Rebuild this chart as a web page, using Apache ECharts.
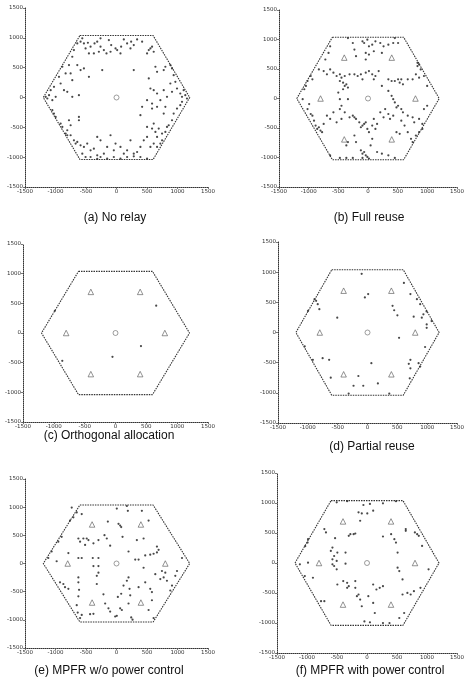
<!DOCTYPE html>
<html><head><meta charset="utf-8">
<script src="https://cdn.jsdelivr.net/npm/echarts@6/dist/echarts.min.js"></script>
<style>html,body{margin:0;padding:0;background:#fff}#c{width:467px;height:686px}</style>
</head><body><div id="c"></div>
<script>
// ---------- data ----------
const ticks = [-1500, -1000, -500, 0, 500, 1000, 1500];
const captions = ['(a) No relay', '(b) Full reuse', '(c) Orthogonal allocation', '(d) Partial reuse', '(e) MPFR w/o power control', '(f) MPFR with power control'];
const hexagon = [[-600,1039],[600,1039],[1200,0],[600,-1039],[-600,-1039],[-1200,0],[-600,1039]];
const baseStation = [[0,0]];
const relays = [[800,0],[400,693],[-400,693],[-800,0],[-400,-693],[400,-693]];
const hasRelays = [false, true, true, true, true, true];

const usersA = [
[-589,935],[-534,907],[-469,918],[-425,851],[-360,907],[-316,935],[-262,851],[-207,795],[-164,739],[-125,963],
[-87,879],[-16,823],[11,795],[76,851],[120,974],[174,907],[240,935],[283,879],[338,974],[420,935],
[501,739],[529,795],[556,823],[583,851],[610,767],[-452,739],[-371,739],[-289,767],[-643,907],[-698,795],
[-561,991],[-507,823],[-98,767],[65,739],[-262,991],[229,823],
[-725,683],[-779,543],[-888,515],[-834,403],[-943,347],[-752,403],[-725,291],[-643,543],[-589,459],[-534,487],
[-452,347],[-1025,179],[-1079,123],[-1106,39],[-1161,11],[-1134,-17],[-1052,-45],[-997,11],[-861,123],[-725,11],
[-616,39],[-807,95],[-916,235],[-234,459],[283,459],
[638,515],[665,431],[774,459],[801,515],[883,543],[910,487],[937,375],[965,263],[529,319],[556,151],
[610,123],[665,67],[774,123],[828,11],[910,95],[992,151],[1046,67],[1074,11],[1101,123],[1128,39],
[1155,-17],[883,235],[501,-45],
[-1052,-213],[-1025,-269],[-997,-325],[-916,-437],[-888,-493],[-834,-605],[-807,-549],[-779,-381],[-752,-465],[-616,-325],
[-616,-381],[-807,-633],[-752,-633],[-698,-717],[-670,-773],[-643,-745],[-589,-801],[-534,-829],[-480,-773],[-425,-885],
[-371,-857],[-316,-661],[-262,-717],[-207,-941],[-153,-829],[-98,-633],[-44,-885],[-16,-773],[65,-829],[120,-941],
[174,-885],[229,-717],[283,-941],[338,-913],[392,-829],[447,-717],[501,-661],[556,-829],[610,-773],[-561,-941],
[-507,-997],[-425,-997],[-316,-1030],[-262,-997],[-153,-1025],[-44,-997],[65,-1025],[174,-997],[283,-986],[392,-997],
[501,-1025],[-316,-969],
[420,-157],[583,-101],[665,-157],[719,-45],[774,-269],[801,-157],[828,-493],[801,-577],[856,-465],[910,-381],
[937,-269],[992,-185],[1046,-129],[1074,-73],[610,-437],[692,-521],[747,-605],[638,-577],[665,-661],[747,-717],
[665,-829],[719,-773],[583,-185],[501,-493],[583,-521],[392,-297]
];

const usersB = [
[-338,1025],[-256,941],[-229,829],[-93,969],[-65,941],[-11,997],[16,885],[71,913],[125,969],[207,941],
[262,885],[343,913],[425,941],[452,1025],[507,941],[-638,885],[-665,773],[-719,661],[-38,773],[16,745],
[98,801],[234,773],[-202,717],[-38,661],
[-828,493],[-747,465],[-692,409],[-638,493],[-583,437],[-529,381],[-474,409],[-447,353],[-392,381],[-311,409],
[-229,409],[-174,381],[-120,409],[-93,325],[-38,437],[16,465],[71,409],[125,381],[98,325],[180,465],
[343,325],[398,297],[452,297],[507,325],[534,269],[561,325],[589,241],[670,325],[752,325],[807,409],
[861,353],[834,549],[861,577],[888,493],[943,381],[997,213],[834,605],[-965,381],[-937,325],[-1019,297],
[-1074,157],[-1046,213],[-1101,-11],[-992,-95],
[-474,297],[-420,269],[-392,213],[-365,241],[-338,185],[-420,157],[-501,101],[-474,-11],[-447,-123],[-474,-179],
[-392,-235],[-338,-11],[234,213],[343,129],[398,45],[425,-11],[452,-67],[480,-151],[507,-123],[561,-179],
[589,-235],[289,-179],[343,-263],[371,-347],[425,-291],[670,-291],[752,-319],[779,-403],[861,-347],[916,-431],
[943,-179],[997,-123],
[-1019,-179],[-965,-263],[-937,-291],[-910,-375],[-883,-459],[-856,-515],[-828,-487],[-801,-543],[-774,-571],[-747,-431],
[-692,-291],[-638,-347],[-583,-235],[-529,-403],[-447,-347],[-311,-319],[-256,-291],[-229,-319],[-202,-347],[-147,-403],
[-120,-487],[-93,-459],[-65,-431],[-38,-403],[-11,-515],[16,-571],[71,-459],[98,-347],[125,-515],[153,-431],
[207,-235],[262,-319],[-202,-739],[-229,-627],[-120,-879],[-93,-935],[-65,-907],[-38,-963],[-11,-991],[16,-1019],
[-93,-1008],[153,-907],[234,-935],[71,-683],[44,-795],[-365,-795],[-338,-739],[-638,-963],[-474,-1008],[-365,-1008],
[-256,-1008],[343,-963],[452,-1008],
[480,-571],[534,-599],[670,-571],[752,-739],[725,-683],[807,-627],[861,-571],[916,-515],[616,-459],[561,-375]
];

const usersC = [[660,460],[413,-220],[-49,-401],[-863,-469],[-983,373]];

const usersD = [
[-98,973],[610,822],[719,637],[828,553],[883,470],[990,350],[937,302],[910,246],[992,134],[992,78],
[1074,190],[774,263],[420,442],[447,369],[501,285],[11,637],[-44,581],[-507,246],[-861,525],[-834,470],
[-807,386],[-888,553],[-997,358],[529,-89],[-1052,-229],[-916,-453],[-752,-425],[-643,-453],[965,-240],[719,-453],
[692,-520],[856,-509],[883,-565],[719,-593],[65,-509],[-153,-721],[-616,-749],[-234,-883],[-71,-883],[174,-844],
[365,-1012],[-316,-1012],[708,-760]
];

const usersE = [
[-734,992],[-707,819],[-652,906],[-570,877],[-762,762],[5,975],[170,1021],[186,935],[60,675],[77,646],
[33,704],[-142,744],[416,935],[526,762],
[-899,473],[-954,387],[-1063,213],[-1118,98],[-981,40],[-789,185],[-625,444],[-597,387],[-543,444],[-488,444],
[-460,415],[-515,329],[-378,358],[-296,415],[-197,502],[-159,444],[-104,317],[99,473],[334,415],[444,444],
[-625,98],[-570,98],[-296,98],[-389,98],[-378,-46],[-296,-46],
[663,300],[690,242],[663,196],[608,173],[553,156],[471,144],[307,69],[362,69],[444,-75],[197,213],
[1074,98],[992,-133],[964,-219],[910,-392],[882,-479],[745,-133],[800,-162],[827,-306],[636,-190],
[-926,-335],[-871,-364],[-844,-421],[-789,-450],[-625,-248],[-625,-335],[-614,-467],[-625,-583],[-652,-739],[-636,-871],
[-570,-912],[-433,-900],[-378,-894],[-323,-364],[-323,-219],[-296,-162],[-214,-548],[-186,-710],[-132,-796],[-104,-854],
[-22,-941],[5,-929],[60,-796],[88,-825],[22,-594],[77,-537],[115,-392],[170,-306],[197,-248],[214,-450],
[225,-565],[241,-958],[263,-998],[197,-710],[362,-421],[471,-335],[581,-508],[553,-450],[581,-652],[608,-969],
[526,-825],[-597,-969],[718,-277],[773,-248]
];

const usersF = [
[-505,1012],[-331,1030],[-60,967],[49,984],[103,872],[-141,844],[-87,827],[5,827],[266,995],[483,1029],
[-114,704],[-711,565],[-684,509],[-532,414],[-304,453],[-277,481],[-223,481],[-195,492],[-576,257],[-603,201],
[-548,117],[-576,61],[-494,173],[-358,173],[-505,34],[-576,-22],[-548,-50],[-358,-11],[-505,-106],[266,442],
[402,481],[456,397],[483,341],[646,565],[646,537],[798,509],[836,481],[863,453],[918,285],[510,173],
[510,-78],[538,-134],[1026,-106],[-990,340],[-1030,280],[-983,397],[-1119,-22],[-1037,-218],[-901,-246],[-494,-358],
[-396,-302],[-331,-330],[-304,-386],[-331,-414],[-195,-302],[-195,-414],[-141,-525],[-114,-609],[-87,-721],[-168,-553],
[103,-358],[157,-442],[212,-414],[266,-386],[22,-553],[103,-665],[130,-833],[-43,-973],[49,-989],[266,-1001],
[375,-1001],[538,-917],[619,-833],[592,-525],[673,-498],[728,-525],[782,-470],[891,-414],[592,-274],[-711,-637],
[-766,-637],[-983,6]
];

const users = [usersA, usersB, usersC, usersD, usersE, usersF];

// ---------- layout ----------
const grids = [
  {left: 25,  top: 8,   width: 183, height: 179},
  {left: 279, top: 10,  width: 184, height: 177},
  {left: 23,  top: 244, width: 185, height: 178},
  {left: 278, top: 242, width: 185, height: 181},
  {left: 25,  top: 479, width: 183, height: 169},
  {left: 277, top: 473, width: 186, height: 180}
];
const captionPos = [[115,218],[369,218],[109,436],[372,447],[109,671],[370,671]];

const axisCommon = {
  min: ticks[0], max: ticks[ticks.length-1], interval: 500,
  axisLine: {show: true, onZero: false, lineStyle: {color: '#333', width: 1, type: [1,1]}},
  axisTick: {show: true, length: 2, lineStyle: {color: '#555', width: 0.8}},
  axisLabel: {fontSize: 5.5, color: '#333', fontFamily: 'DejaVu Sans', margin: 2, formatter: v => String(v)},
  splitLine: {show: false}
};

const xAxis = [], yAxis = [], series = [], title = [];
grids.forEach((g, i) => {
  xAxis.push(Object.assign({type: 'value', gridIndex: i}, axisCommon));
  yAxis.push(Object.assign({type: 'value', gridIndex: i}, axisCommon));
  series.push({
    type: 'line', xAxisIndex: i, yAxisIndex: i, data: hexagon, symbol: 'none', silent: true,
    lineStyle: {color: '#333', width: 1.1, type: [1.5, 1]}
  });
  series.push({
    type: 'scatter', xAxisIndex: i, yAxisIndex: i, data: users[i], symbol: 'circle', symbolSize: 2.2,
    itemStyle: {color: '#1a1a1a'}, silent: true
  });
  if (hasRelays[i]) {
    series.push({
      type: 'scatter', xAxisIndex: i, yAxisIndex: i, data: relays, symbol: 'triangle', symbolSize: 5.5,
      itemStyle: {color: 'rgba(0,0,0,0)', borderColor: '#555', borderWidth: 0.8}, silent: true
    });
  }
  series.push({
    type: 'scatter', xAxisIndex: i, yAxisIndex: i, data: baseStation, symbol: 'circle', symbolSize: 5,
    itemStyle: {color: 'rgba(0,0,0,0)', borderColor: '#666', borderWidth: 0.8}, silent: true
  });
  title.push({
    text: captions[i], left: captionPos[i][0], top: captionPos[i][1], textAlign: 'center', textVerticalAlign: 'middle',
    padding: 0,
    textStyle: {fontSize: 12, fontWeight: 'normal', color: '#111', fontFamily: 'Liberation Sans'}
  });
});

const chart = echarts.init(document.getElementById('c'), null, {renderer: 'canvas'});
chart.setOption({
  animation: false,
  backgroundColor: '#fff',
  title: title,
  grid: grids,
  xAxis: xAxis,
  yAxis: yAxis,
  series: series
});
</script>
</body></html>
